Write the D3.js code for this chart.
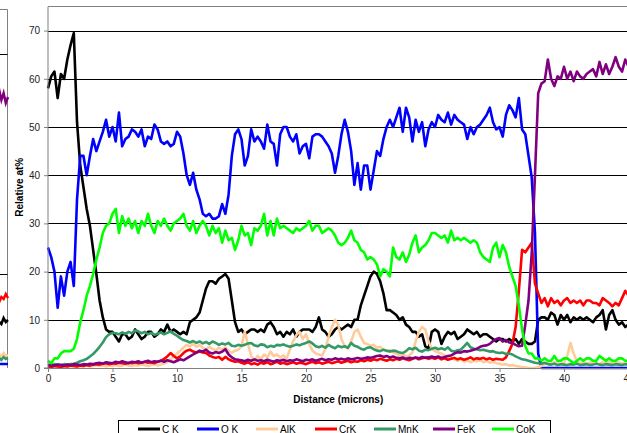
<!DOCTYPE html>
<html>
<head>
<meta charset="utf-8">
<script src="https://cdn.jsdelivr.net/npm/d3@7/dist/d3.min.js"></script>
<style>
  body { margin: 0; background: #fff; }
  svg { display: block; font-family: "Liberation Sans", Arial, sans-serif; }
</style>
</head>
<body>
<div id="chart"></div>
<script>
// sample spacing along the line scan (microns)
const step = 0.25;

// relative at%, one value every 0.25 micron, 0 .. 45
const ckValues = [
  58, 60.5, 61.5, 56, 61, 60, 64, 67, 69.5, 51, 42, 37.5, 33, 29.5, 24.5, 19.5, 14, 10.5, 8, 7.5,
  7.5, 6.5, 5.5, 7, 7, 6, 6.5, 8, 7, 6, 6.5, 7.5, 7.5, 6.5, 7, 8, 7.5, 9, 7.5, 8,
  7.5, 7, 7.5, 7, 9.5, 10, 10.5, 11.5, 14, 16.5, 18, 18, 17.5, 18.5, 19, 19.5, 18.5, 14, 9.5, 7.5,
  8, 7, 7.5, 8, 8, 7.5, 8, 7.5, 9, 9.5, 8.5, 7, 7.5, 6.5, 7.5, 7, 8, 6.5, 7.5, 8,
  8, 8, 7.5, 8.5, 10.5, 8, 7.5, 6.5, 7, 8, 8.5, 8, 8.5, 9, 8.5, 10, 10, 13, 15, 17,
  19, 20, 19.5, 18, 15.5, 12, 12, 11.5, 11, 10, 10.5, 9, 8.5, 7.5, 7.5, 6.5, 7, 4.5, 4, 7.5,
  8, 7.5, 5, 6.5, 7.5, 7, 7.5, 6, 6.5, 7, 8, 7.5, 7, 7.5, 6.5, 7, 7, 6.5, 6, 5.5,
  6, 6, 5.5, 6, 5.5, 6, 5, 6, 5.5, 5, 5, 5.5, 10, 10.5, 10.5, 10, 11.5, 11, 9, 11,
  10, 11, 9.5, 10.5, 10, 10.5, 10, 10.5, 10, 9.5, 10.5, 11, 12, 8, 11, 12, 10, 9, 9.5, 8.5,
  9
];
const okValues = [
  25, 23, 20, 12.5, 19, 15, 20, 22, 17, 35, 44, 44, 40, 44, 47.5, 45, 47, 49, 51.5, 48,
  50, 47, 53, 46, 47.5, 48, 49.5, 49, 48, 49.5, 46, 48, 47.5, 50.5, 49.5, 47, 46.5, 47, 46, 46.5,
  49, 48, 44.5, 40, 38, 40.5, 37, 35, 32, 31.5, 32, 31, 31, 31.5, 34, 32, 36, 44, 48.5, 49.5,
  47.5, 42, 44, 49.5, 47, 48, 47, 45.5, 50.5, 47, 46.5, 42, 48.5, 50, 50, 48, 47, 48.5, 44.5, 46,
  46.5, 43.5, 48, 48.5, 48.5, 48, 47, 46, 44.5, 40.5, 44, 48.5, 51.5, 49, 45, 38, 42.5, 37, 42, 42,
  37, 41, 45, 44, 47.5, 50, 51.5, 50, 52, 54, 49, 54, 52, 47, 51.5, 49, 51, 46, 49.5, 51,
  50, 52.5, 51.5, 51, 53, 50.5, 52.5, 51.5, 51, 50.5, 47.5, 50, 48.5, 50, 50.5, 51.5, 52.5, 54, 51, 49.5,
  50, 48, 52.5, 54.5, 53.5, 52, 56, 49.5, 48.5, 44, 39.5, 28, 3, 0, 0, 0, 0, 0, 0, 0,
  0, 0, 0, 0, 0, 0, 0, 0, 0, 0, 0, 0, 0, 0, 0, 0, 0, 0, 0, 0,
  0
];
const alkValues = [
  0.2, 0.1, 0.3, 0.2, 0.1, 0.3, 0.2, 0.4, 0.3, 0.2, 0.4, 0.3, 0.5, 0.3, 0.4, 0.6, 0.4, 0.5, 0.3, 0.5,
  0.4, 0.6, 0.4, 0.5, 0.7, 0.5, 0.4, 0.6, 0.5, 0.7, 0.6, 0.4, 0.6, 0.8, 0.5, 0.7, 0.9, 1.2, 1.8, 2.5,
  3, 3.6, 4.2, 4.8, 4.5, 5, 4.4, 4.8, 4.2, 3.8, 4.4, 4, 3.6, 4.2, 3.8, 4.3, 3.5, 3.2, 3.6, 3.8,
  4.5, 7.5, 5, 2.5, 1.5, 2.5, 1.8, 2.8, 2.2, 3.4, 2.5, 2.8, 2.2, 2.6, 2, 3.8, 5.5, 6.8, 7.5, 6,
  7, 5, 3.6, 3, 2.8, 2.6, 4, 6.5, 8.5, 10, 9, 6, 4.5, 4, 5.5, 7.5, 8, 6.5, 5.2, 5,
  4.6, 4.8, 4.2, 4.4, 3.8, 3.5, 3.7, 3.2, 3, 2.6, 2.8, 2.4, 2.6, 3.2, 5.5, 7.5, 8.5, 8, 5.5, 4,
  3.5, 3.2, 3, 2.6, 2.2, 2, 1.8, 1.5, 1.8, 1.3, 1.6, 1.2, 1.5, 1.4, 1.7, 1.2, 1.5, 1.1, 1.3, 1,
  0.9, 0.7, 0.8, 0.5, 0.6, 0.4, 0.3, 0.2, 0.1, 0, 0, 0, 0.2, 0.4, 0.8, 1, 0.9, 1.2, 1, 0.8,
  1.1, 2.5, 5.2, 3, 1.4, 1, 1.2, 0.9, 1.1, 1.3, 1, 0.8, 1.2, 1, 1.3, 0.9, 1.1, 1.2, 0.9, 1.1,
  1
];
const crkValues = [
  0.3, 0.2, 0.4, 0.3, 0.2, 0.4, 0.3, 0.5, 0.4, 0.3, 0.5, 0.4, 0.6, 0.5, 0.7, 0.8, 0.7, 0.9, 1, 0.8,
  1, 0.9, 1.1, 1, 0.9, 1.1, 1, 1.2, 1, 1.1, 1.3, 1.1, 1.2, 1, 1.3, 1.5, 1.9, 2.4, 3.1, 2.5,
  2, 2.4, 3.1, 3.6, 3.8, 3.4, 3.2, 3.4, 3.2, 3.1, 2.6, 2.3, 2.1, 2.3, 1.7, 2.3, 1.8, 1.5, 1.3, 1.4,
  1.1, 0.9, 1.2, 0.8, 1, 0.7, 1.1, 0.9, 1.2, 0.8, 1, 1.3, 0.9, 1.1, 0.8, 1, 1.2, 0.9, 1.1, 1,
  0.8, 1.1, 1.3, 1, 1.2, 0.9, 1.1, 1.3, 1, 1.2, 1.4, 1.1, 1.3, 1.5, 1.2, 1.4, 1.3, 1.6, 1.4, 1.7,
  1.5, 1.8, 1.6, 1.9, 1.7, 1.5, 1.8, 1.6, 1.9, 1.7, 2, 1.8, 1.6, 1.9, 2.1, 1.8, 2, 2.2, 1.9, 2.1,
  1.9, 2.2, 1.8, 2, 1.7, 1.9, 2.1, 1.8, 2, 1.7, 1.9, 2.2, 1.8, 2, 1.9, 2.1, 1.8, 2, 1.7, 1.9,
  1.8, 1.7, 2.2, 3.5, 5, 8.5, 16, 24.5, 24, 25, 26, 17.5, 15.5, 13.5, 14.5, 12.8, 14.5, 13.5, 14, 13,
  14, 14.5, 13.5, 14, 13.5, 14, 13, 14, 14, 13.5, 13.5, 13, 14.5, 14, 13.5, 12.8, 13.5, 13, 14.5, 16,
  15
];
const mnkValues = [
  0.7, 0.6, 0.8, 0.7, 0.6, 0.8, 0.7, 0.8, 0.9, 1.1, 1.4, 1.6, 1.9, 2.4, 2.9, 3.6, 4.4, 5.3, 6.4, 7,
  7.3, 7.2, 7, 7.4, 7.1, 7.5, 7.2, 7.8, 7.6, 7.2, 7.5, 7, 7.3, 6.9, 7.1, 7.4, 7, 7.3, 7.6, 7.1,
  6.7, 6.2, 5.8, 5.6, 5.3, 5.6, 5.2, 5.5, 5.1, 5.4, 5, 5.5, 5.2, 4.8, 5.1, 4.9, 5.2, 4.6, 4.5, 4.8,
  4.6, 4.8, 5.1, 5.2, 4.7, 4.5, 4.9, 4.8, 4.3, 4.6, 4.4, 4.8, 4.7, 4.9, 4.6, 4.4, 4.6, 4.9, 4.7, 5,
  5.2, 5.5, 5.1, 4.5, 4.3, 4.6, 4.2, 4.8, 4.4, 4.1, 4.6, 4.3, 4.5, 4.2, 5.2, 4.6, 4.4, 4, 3.8, 4.2,
  4.3, 3.9, 3.6, 3.5, 3.8, 3.6, 3.4, 3.6, 3.5, 3.2, 3.1, 3.5, 4.1, 3.9, 4.2, 3.6, 3.4, 3.8, 3.7, 4,
  4.2, 3.9, 4.1, 3.8, 4.3, 3.6, 3.4, 3.7, 3.8, 4.5, 5.2, 4.3, 4, 3.9, 3.7, 3.8, 3.6, 3.4, 3.5, 3.2,
  3.1, 3.2, 2.9, 3, 2.8, 2.4, 2.1, 1.8, 1.7, 1.5, 1.3, 1.1, 1, 0.9, 1.1, 0.8, 0.7, 0.9, 0.6, 0.8,
  0.7, 0.6, 0.8, 0.7, 0.9, 0.6, 0.7, 0.8, 0.6, 0.7, 0.9, 0.7, 0.6, 0.8, 0.7, 0.6, 0.8, 0.7, 0.6, 0.8,
  0.7
];
const fekValues = [
  0.5, 0.6, 0.5, 0.7, 0.6, 0.5, 0.7, 0.6, 0.8, 0.7, 0.6, 0.8, 0.7, 0.9, 0.8, 1, 1.1, 0.9, 1.2, 1.1,
  1, 1.3, 1.1, 1.4, 1.2, 1, 1.3, 1.2, 1.4, 1.1, 1.3, 1.5, 1.2, 1.4, 1.3, 1.5, 1.3, 1.6, 1.4, 1.2,
  1.5, 1.8, 1.6, 2, 2.4, 2.8, 3.2, 3.6, 3.4, 3.8, 3.2, 3, 3.3, 3.1, 3.4, 3.9, 2.8, 2.2, 1.8, 1.7,
  1.6, 1.4, 1.7, 1.5, 1.8, 1.5, 1.6, 1.4, 1.7, 1.5, 1.3, 1.6, 1.5, 1.7, 1.4, 1.6, 1.5, 1.8, 1.6, 1.4,
  1.7, 1.6, 1.8, 1.5, 1.7, 1.9, 1.6, 1.8, 1.7, 2, 1.8, 1.9, 1.7, 2, 1.8, 1.9, 2.1, 1.9, 2, 2.2,
  2.1, 2.3, 2.5, 2.6, 2.3, 2.5, 2.2, 2.4, 2.1, 2, 2.2, 1.9, 2.1, 2, 2.2, 2, 2.3, 2.1, 2.2, 2.4,
  2.2, 2.4, 2.1, 2.3, 2.5, 2.6, 3, 3.3, 3.2, 3.5, 3.4, 3.6, 3.8, 4, 4.4, 4.6, 4.7, 5, 5.6, 6,
  6.2, 5.5, 5.8, 5.3, 5.2, 4.8, 4.5, 4.6, 9, 14, 24, 40, 57, 59, 59.5, 64, 60, 58.5, 60.5, 60,
  62.5, 60, 61.5, 59.5, 61.5, 60.5, 60, 61, 61.5, 62, 60.5, 63.5, 61, 63, 61, 62.5, 64.5, 62.5, 61.5, 64,
  62.5
];
const cokValues = [
  1.5, 1, 2, 2, 3, 3.5, 3.5, 3.5, 4, 6, 9.5, 12, 15, 17, 19.5, 22.5, 25, 28, 29.5, 30,
  32, 33, 28, 31.5, 29.5, 31, 29, 30.5, 28, 30.5, 29.5, 32, 29.5, 28, 30.5, 29.5, 31, 29.5, 28.5, 30,
  30.5, 31, 32, 29.5, 28.5, 30.5, 28, 29.5, 30.5, 29.5, 27.5, 29.5, 28, 29, 26, 28.5, 26.5, 27, 24.5, 26.5,
  29.5, 27.5, 28, 25.5, 29, 28.5, 29.5, 32, 27.5, 30.5, 27.5, 31, 29, 29.5, 29, 28.5, 28, 29, 28.5, 29,
  29.5, 30.5, 28.5, 29.5, 29.5, 28, 28.5, 29, 28.5, 27.5, 26, 25.5, 26, 27, 28.5, 26.5, 26, 24.5, 24, 22.5,
  23, 22.5, 21.5, 19, 20.5, 20, 19, 25, 23, 22.5, 24, 22, 23.5, 26, 27.5, 24, 25, 25.5, 26.5, 28,
  28, 27.5, 27, 27.5, 26, 28.5, 26.5, 27, 26.5, 27, 26.5, 26, 26.5, 26, 24, 23, 22.5, 22, 25, 26,
  23, 25.5, 24, 21, 19, 17, 13, 8, 4.5, 3, 3, 2, 2, 1.5, 2, 1.5, 1.5, 2.5, 1.5, 1.5,
  2, 2, 1.5, 1, 1.5, 2, 1.5, 2, 2, 1.5, 1.5, 2.5, 2, 1.5, 2, 1.5, 1.5, 2, 2, 1.5,
  1.5
];

const seriesNames = ["C K", "O K", "AlK", "CrK", "MnK", "FeK", "CoK"];
const seriesColors = ["#000000", "#0000ff", "#ffcc99", "#ff0000", "#339966", "#800080", "#00ff00"];
const xTickValues = [0, 5, 10, 15, 20, 25, 30, 35, 40, 45];
const yTickValues = [0, 10, 20, 30, 40, 50, 60, 70];

// tail end of the neighbouring chart that shows at the left edge (y in px of that chart)
const neighbourNames = ["FeK", "CrK", "C K", "AlK", "MnK", "O K"];
const neighbourTails = [
  [95, 90, 100, 93, 103, 97],
  [296, 302, 297, 299, 294, 298],
  [326, 322, 324, 318, 322, 320],
  [356, 354, 357, 353, 356, 355],
  [359, 358, 360, 357, 359, 358],
  [364, 364, 364, 364, 364, 364]
];

function init() {
  const w = 627;
  const h = 433;
  const margin = { left: 48, top: 6.5, bottom: 368 };

  const distance = d3.range(0, 45 + step / 2, step);
  const allValues = [ckValues, okValues, alkValues, crkValues, mnkValues, fekValues, cokValues];

  const x = d3.scaleLinear().domain([0, 45]).range([margin.left, margin.left + 45 * 12.9]);
  const y = d3.scaleLinear().domain([0, 75]).range([margin.bottom, margin.top]);

  const svg = d3.select("#chart")
    .append("svg")
    .attr("width", w)
    .attr("height", h);

  // neighbouring chart fragment
  const frag = svg.append("g");
  frag.append("path")
    .attr("d", "M0,9.5H7.5V368")
    .attr("fill", "none")
    .attr("stroke", "#808080");
  [54, 274].forEach(yy => frag.append("line")
    .attr("x1", 0).attr("x2", 7.5).attr("y1", yy + 0.5).attr("y2", yy + 0.5)
    .attr("stroke", "#000"));
  const fragX = d3.scaleLinear().domain([0, 5]).range([-3, 8]);
  neighbourTails.forEach((t, i) => {
    frag.append("path")
      .datum(t)
      .attr("fill", "none")
      .attr("stroke", seriesColors[seriesNames.indexOf(neighbourNames[i])])
      .attr("stroke-width", 2.5)
      .attr("d", d3.line().x((d, j) => fragX(j)).y(d => d));
  });

  // plot border (top) and gridlines
  svg.append("line")
    .attr("x1", margin.left).attr("x2", w)
    .attr("y1", y(75)).attr("y2", y(75))
    .attr("stroke", "#808080");

  svg.append("g")
    .selectAll("line")
    .data(yTickValues.filter(d => d > 0))
    .enter()
    .append("line")
    .attr("x1", margin.left)
    .attr("x2", w)
    .attr("y1", d => Math.round(y(d)) + 0.5)
    .attr("y2", d => Math.round(y(d)) + 0.5)
    .attr("stroke", "#000");

  // series, first listed drawn first
  const line = d3.line()
    .x((d, i) => x(distance[i]))
    .y(d => y(d));

  svg.append("g")
    .selectAll("path")
    .data(allValues)
    .enter()
    .append("path")
    .attr("fill", "none")
    .attr("stroke", (d, i) => seriesColors[i])
    .attr("stroke-width", 2.6)
    .attr("stroke-linejoin", "round")
    .attr("d", line);

  // axes
  const yAxis = svg.append("g")
    .attr("transform", "translate(" + margin.left + ",0)")
    .call(d3.axisLeft(y).tickValues(yTickValues).tickSize(4).tickPadding(4));
  const xAxis = svg.append("g")
    .attr("transform", "translate(0," + margin.bottom + ")")
    .call(d3.axisBottom(x).tickValues(xTickValues).tickSize(4).tickPadding(3));

  [yAxis, xAxis].forEach(g => {
    g.select(".domain").attr("stroke", "#808080");
    g.selectAll(".tick line").attr("stroke", "#808080");
    g.selectAll("text")
      .attr("fill", "#222")
      .attr("font-size", "10px")
      .attr("font-family", "Liberation Sans, Arial, sans-serif");
  });
  yAxis.select(".domain").attr("d", "M-4," + y(0) + "H0V" + y(75));

  // axis titles
  svg.append("text")
    .attr("x", x(22.5))
    .attr("y", 403)
    .attr("text-anchor", "middle")
    .attr("font-size", "10px")
    .attr("font-weight", "bold")
    .text("Distance (microns)");

  svg.append("text")
    .attr("transform", "translate(23," + y(37.5) + ") rotate(-90)")
    .attr("text-anchor", "middle")
    .attr("font-size", "10px")
    .attr("font-weight", "bold")
    .text("Relative at%");

  // legend
  const legend = svg.append("g");
  legend.append("rect")
    .attr("x", 118.5)
    .attr("y", 420.5)
    .attr("width", 432)
    .attr("height", 30)
    .attr("fill", "#fff")
    .attr("stroke", "#000");

  const item = legend.selectAll("g.item")
    .data(seriesNames)
    .enter()
    .append("g")
    .attr("class", "item")
    .attr("transform", (d, i) => "translate(" + (138 + i * 59) + ",429)");
  item.append("line")
    .attr("x1", 0).attr("x2", 22)
    .attr("stroke", (d, i) => seriesColors[i])
    .attr("stroke-width", 3);
  item.append("text")
    .attr("x", 24)
    .attr("y", 4)
    .attr("font-size", "10px")
    .text(d => d);
}

window.onload = init;
</script>
</body>
</html>
